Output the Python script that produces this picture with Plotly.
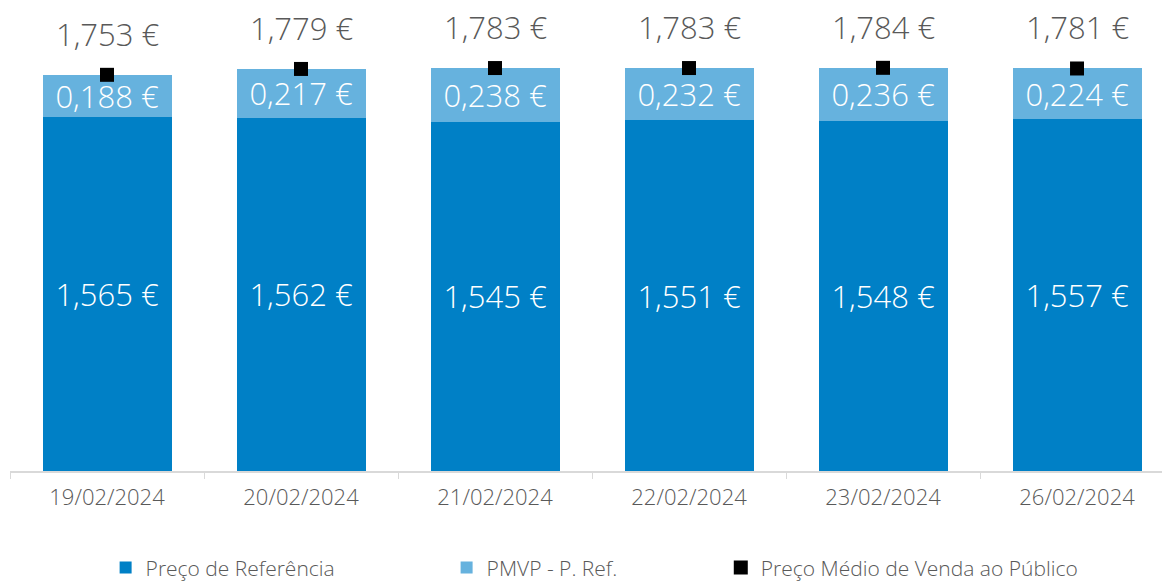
import plotly.graph_objects as go

dates = ["19/02/2024", "20/02/2024", "21/02/2024", "22/02/2024", "23/02/2024", "26/02/2024"]
preco_ref = [1.565, 1.562, 1.545, 1.551, 1.548, 1.557]
pmvp_diff = [0.188, 0.217, 0.238, 0.232, 0.236, 0.224]
pmvp = [1.753, 1.779, 1.783, 1.783, 1.784, 1.781]

DARK = "#0080C6"
LIGHT = "#66B2DE"
GREY = "#595959"
FONT = "Open Sans"
W = 300

def fmt(v):
    return f"{v:.3f}".replace(".", ",") + " €"

fig = go.Figure()
fig.add_trace(go.Bar(
    x=dates, y=preco_ref, name="Preço de Referência",
    marker=dict(color=DARK, line=dict(width=0)),
    text=[fmt(v) for v in preco_ref], textposition="inside",
    insidetextanchor="middle", constraintext="none",
    textfont=dict(color="white", size=31, family=FONT, weight=W),
    legend="legend", showlegend=True,
))
fig.add_trace(go.Bar(
    x=dates, y=pmvp_diff, name="PMVP - P. Ref.",
    marker=dict(color=LIGHT, line=dict(width=0)),
    text=[fmt(v) for v in pmvp_diff], textposition="inside",
    insidetextanchor="middle", constraintext="none",
    textfont=dict(color="white", size=31, family=FONT, weight=W),
    legend="legend2", showlegend=True,
))
fig.add_trace(go.Scatter(
    x=dates, y=pmvp, name="Preço Médio de Venda ao Público",
    mode="markers", marker=dict(symbol="square", size=14, color="black"),
    legend="legend3", showlegend=True,
))

for d, v in zip(dates, pmvp):
    fig.add_annotation(x=d, y=v, text=fmt(v), showarrow=False, yshift=41,
                       font=dict(size=31, color=GREY, family=FONT, weight=W))

legend_common = dict(orientation="h", xanchor="left", yanchor="middle", y=-0.214,
                     font=dict(size=21, color=GREY, family=FONT, weight=W),
                     bgcolor="rgba(0,0,0,0)", itemwidth=30)

fig.update_layout(
    width=1162, height=581,
    showlegend=True,
    margin=dict(l=10, r=0, t=19, b=110, autoexpand=False),
    barmode="stack", bargap=0.335,
    paper_bgcolor="white", plot_bgcolor="white",
    separators=", ",
    font=dict(family=FONT, color=GREY),
    xaxis=dict(range=[-0.5, 5.438], showline=True, linecolor="#D9D9D9", linewidth=1.5,
               ticks="outside", tickson="boundaries", ticklen=6, tickcolor="#D9D9D9",
               tickfont=dict(size=22, color=GREY, family=FONT, weight=W), ticklabelstandoff=6,
               showgrid=False, fixedrange=True),
    yaxis=dict(range=[0, 2.0], visible=False, fixedrange=True),
    legend=dict(x=0.083, **legend_common),
    legend2=dict(x=0.379, **legend_common),
    legend3=dict(x=0.617, **legend_common),
)

fig.write_html("out.html", config={"displayModeBar": False},
               post_script="document.body.style.margin='0';document.body.style.overflow='hidden';")
